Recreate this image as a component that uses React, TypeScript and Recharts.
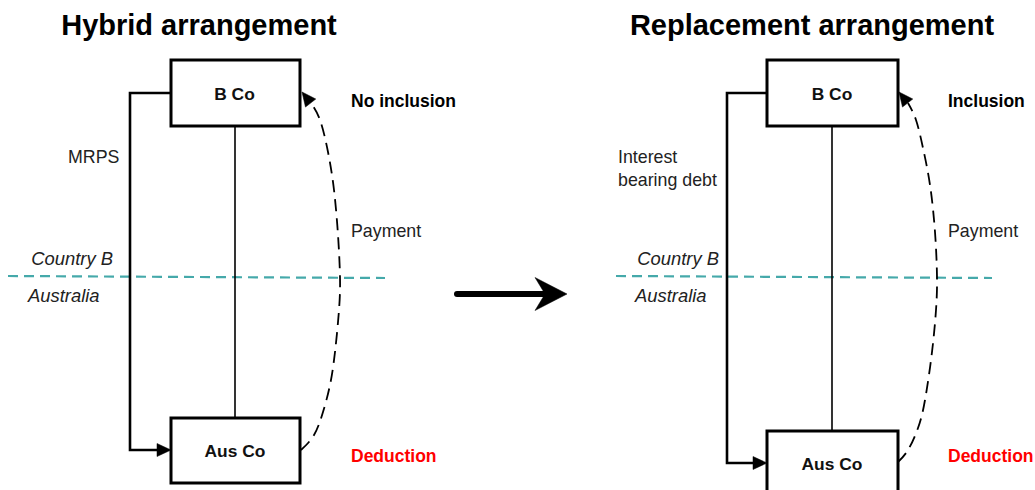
import React from 'react';
import { ComposedChart, XAxis, YAxis, Line, Scatter, ReferenceArea } from 'recharts';

// ---- diagram data (coordinates in picture units: x 0..1035, y 0..490 from top) ----
const boxes = [
  { name: 'B Co', x1: 171, x2: 300, y1: 60, y2: 126 },
  { name: 'Aus Co', x1: 171, x2: 300, y1: 418, y2: 483 },
  { name: 'B Co', x1: 767, x2: 898, y1: 60, y2: 126 },
  { name: 'Aus Co', x1: 767, x2: 898, y1: 431, y2: 500 },
];

const hybridLink = [
  { x: 171, y: 93 }, { x: 130, y: 93 }, { x: 130, y: 450 }, { x: 160, y: 450 },
];
const replacementLink = [
  { x: 767, y: 93 }, { x: 727, y: 93 }, { x: 727, y: 463 }, { x: 756, y: 463 },
];
const hybridStem = [{ x: 235, y: 126 }, { x: 235, y: 418 }];
const replacementStem = [{ x: 832, y: 126 }, { x: 832, y: 431 }];

const hybridPayment = [
  { x: 301, y: 450 }, { x: 314, y: 435 }, { x: 323, y: 412 }, { x: 330, y: 385 },
  { x: 335, y: 352 }, { x: 339, y: 310 }, { x: 340, y: 277 }, { x: 338, y: 235 },
  { x: 334, y: 190 }, { x: 328, y: 152 }, { x: 320, y: 120 }, { x: 311, y: 103 },
];
const replacementPayment = [
  { x: 898, y: 462 }, { x: 908, y: 450 }, { x: 918, y: 428 }, { x: 925, y: 400 },
  { x: 932, y: 352 }, { x: 936, y: 310 }, { x: 937, y: 277 }, { x: 935, y: 232 },
  { x: 930, y: 185 }, { x: 923, y: 148 }, { x: 916, y: 120 }, { x: 908, y: 103 },
];

const hybridBorder = [{ x: 8, y: 276 }, { x: 385, y: 278 }];
const replacementBorder = [{ x: 616, y: 276 }, { x: 992, y: 278 }];

const bigArrowShaft = [{ x: 457, y: 294 }, { x: 548, y: 294 }];

const arrowHeads = [
  { x: 171, y: 450, angle: 0, kind: 'small' },
  { x: 767, y: 463, angle: 0, kind: 'small' },
  { x: 302, y: 92, angle: -128, kind: 'small' },
  { x: 899, y: 92, angle: -128, kind: 'small' },
  { x: 567, y: 294, angle: 0, kind: 'big' },
];

const labels = [
  { text: 'Hybrid arrangement', x: 199, y: 35, kind: 'title', anchor: 'middle' },
  { text: 'Replacement arrangement', x: 812, y: 35, kind: 'title', anchor: 'middle' },
  { text: 'B Co', x: 234.5, y: 100, kind: 'box', anchor: 'middle' },
  { text: 'Aus Co', x: 235, y: 457, kind: 'box', anchor: 'middle' },
  { text: 'B Co', x: 832, y: 100, kind: 'box', anchor: 'middle' },
  { text: 'Aus Co', x: 832, y: 470, kind: 'box', anchor: 'middle' },
  { text: 'No inclusion', x: 351, y: 107, kind: 'bold', anchor: 'start' },
  { text: 'Inclusion', x: 948, y: 107, kind: 'bold', anchor: 'start' },
  { text: 'Deduction', x: 351, y: 462, kind: 'red', anchor: 'start' },
  { text: 'Deduction', x: 948, y: 462, kind: 'red', anchor: 'start' },
  { text: 'MRPS', x: 68, y: 163, kind: 'plain', anchor: 'start' },
  { text: 'Interest', x: 618, y: 163, kind: 'plain', anchor: 'start' },
  { text: 'bearing debt', x: 618, y: 186, kind: 'plain', anchor: 'start' },
  { text: 'Payment', x: 351, y: 237, kind: 'plain', anchor: 'start' },
  { text: 'Payment', x: 948, y: 237, kind: 'plain', anchor: 'start' },
  { text: 'Country B', x: 113, y: 265, kind: 'italic', anchor: 'end' },
  { text: 'Country B', x: 719, y: 265, kind: 'italic', anchor: 'end' },
  { text: 'Australia', x: 28, y: 302, kind: 'italic', anchor: 'start' },
  { text: 'Australia', x: 635, y: 302, kind: 'italic', anchor: 'start' },
];

// ---- styles ----
const FONT = '"Liberation Sans", Arial, sans-serif';
const textStyles: Record<string, any> = {
  title: { fontSize: 29, fontWeight: 700, fill: '#000' },
  box: { fontSize: 17.4, fontWeight: 700, fill: '#111' },
  bold: { fontSize: 17.5, fontWeight: 700, fill: '#000' },
  red: { fontSize: 17.5, fontWeight: 700, fill: '#FF0000' },
  plain: { fontSize: 17.8, fontWeight: 400, fill: '#222' },
  italic: { fontSize: 18.4, fontWeight: 400, fontStyle: 'italic', fill: '#222' },
};
const arrowShapes: Record<string, string> = {
  small: '0,0 -14,-6.5 -14,6.5',
  big: '0,0 -32,-16.5 -22,0 -32,16.5',
};

const renderLabel = (props: any) => {
  const { cx, cy, payload } = props;
  if (cx == null || cy == null) return <g />;
  const s = textStyles[payload.kind];
  return (
    <text
      x={cx}
      y={cy}
      textAnchor={payload.anchor}
      fontFamily={FONT}
      fontSize={s.fontSize}
      fontWeight={s.fontWeight}
      fontStyle={s.fontStyle || 'normal'}
      fill={s.fill}
    >
      {payload.text}
    </text>
  );
};

const renderArrow = (props: any) => {
  const { cx, cy, payload } = props;
  if (cx == null || cy == null) return <g />;
  return (
    <polygon
      points={arrowShapes[payload.kind]}
      transform={`translate(${cx},${cy}) rotate(${payload.angle})`}
      fill="#000"
      stroke="#000"
      strokeWidth={0.5}
      strokeLinejoin="miter"
    />
  );
};

const lineCommon = {
  dataKey: 'y',
  dot: false,
  activeDot: false,
  isAnimationActive: false,
  legendType: 'none' as const,
};

export default function App() {
  return (
    <div style={{ position: 'absolute', left: 0, top: 0, background: '#fff' }}>
      <ComposedChart width={1035} height={490} margin={{ top: 0, right: 0, bottom: 0, left: 0 }}>
        <XAxis type="number" dataKey="x" domain={[0, 1035]} hide allowDataOverflow />
        <YAxis type="number" dataKey="y" domain={[0, 490]} reversed hide allowDataOverflow width={0} />

        {/* border lines */}
        <Line {...lineCommon} data={hybridBorder} type="linear" stroke="#45A9AA" strokeWidth={2.2} strokeDasharray="10 6" />
        <Line {...lineCommon} data={replacementBorder} type="linear" stroke="#45A9AA" strokeWidth={2.2} strokeDasharray="10 6" />

        {/* stems */}
        <Line {...lineCommon} data={hybridStem} type="linear" stroke="#000" strokeWidth={1.6} />
        <Line {...lineCommon} data={replacementStem} type="linear" stroke="#000" strokeWidth={1.6} />

        {/* instrument links */}
        <Line {...lineCommon} data={hybridLink} type="linear" stroke="#000" strokeWidth={2.6} strokeLinejoin="miter" />
        <Line {...lineCommon} data={replacementLink} type="linear" stroke="#000" strokeWidth={2.6} strokeLinejoin="miter" />

        {/* payments */}
        <Line {...lineCommon} data={hybridPayment} type="natural" stroke="#000" strokeWidth={1.8} strokeDasharray="12 7" />
        <Line {...lineCommon} data={replacementPayment} type="natural" stroke="#000" strokeWidth={1.8} strokeDasharray="12 7" />

        {/* middle arrow shaft */}
        <Line {...lineCommon} data={bigArrowShaft} type="linear" stroke="#000" strokeWidth={6} strokeLinecap="round" />

        {boxes.map((b, i) => (
          <ReferenceArea
            key={i}
            x1={b.x1}
            x2={b.x2}
            y1={b.y1}
            y2={b.y2}
            ifOverflow="visible"
            fill="#fff"
            fillOpacity={1}
            stroke="#000"
            strokeWidth={3}
          />
        ))}

        <Scatter data={arrowHeads} shape={renderArrow} isAnimationActive={false} legendType="none" />
        <Scatter data={labels} shape={renderLabel} isAnimationActive={false} legendType="none" />
      </ComposedChart>
    </div>
  );
}
